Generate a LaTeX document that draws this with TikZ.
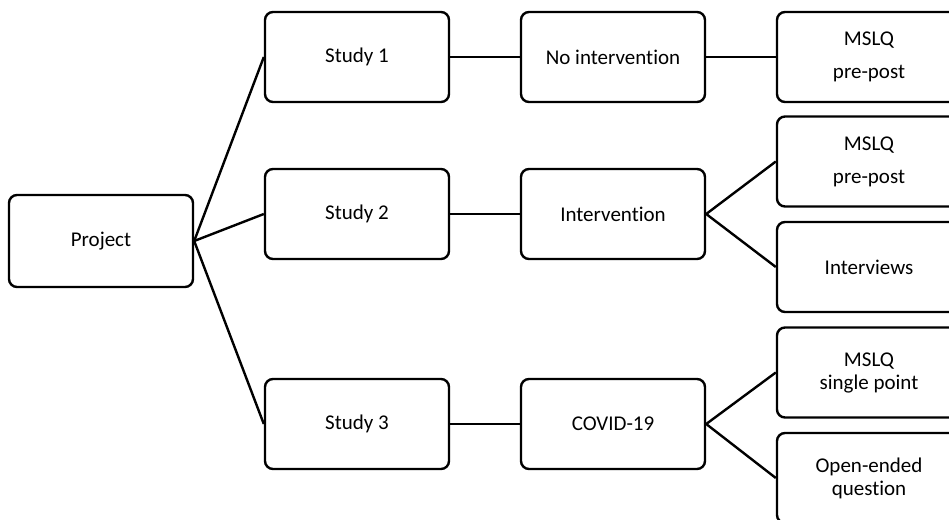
\documentclass[tikz,border=0pt]{standalone}
\usepackage{fontspec}
\setmainfont{Carlito}[Ligatures={NoCommon}]
\tikzset{
  box/.style={draw=black, line width=2.4pt, rounded corners=8pt, minimum width=184pt, minimum height=90pt, inner sep=0pt, align=center, font=\fontsize{21}{23}\selectfont, fill=white},
  link/.style={line width=2.4pt}
}
\begin{document}
\begin{tikzpicture}[x=1pt,y=-1pt]
\useasboundingbox (0,0) rectangle (949,519);
\clip (0,0) rectangle (949,519);
\fill[white] (0,0) rectangle (949,519);
\node[box, minimum height=92pt] (proj) at (101,241) {Project};
\node[box] (s1) at (357,57) {Study 1};
\node[box] (s2) at (357,214) {Study 2};
\node[box] (s3) at (357,424) {Study 3};
\node[box] (m1) at (613,57) {No intervention};
\node[box] (m2) at (613,214) {Intervention};
\node[box] (m3) at (613,424) {COVID-19};
\node[box] (r1) at (869,57) {MSLQ\\[10pt]pre-post};
\node[box] (r2) at (869,161.5) {MSLQ\\[10pt]pre-post};
\node[box] (r3) at (869,267) {Interviews};
\node[box] (r4) at (869,372.5) {MSLQ\\single point};
\node[box] (r5) at (869,478) {Open-ended\\question};
\draw[link] (proj.east) -- (s1.west);
\draw[link] (proj.east) -- (s2.west);
\draw[link] (proj.east) -- (s3.west);
\draw[link] (s1.east) -- (m1.west);
\draw[link] (s2.east) -- (m2.west);
\draw[link] (s3.east) -- (m3.west);
\draw[link] (m1.east) -- (r1.west);
\draw[link] (m2.east) -- (r2.west);
\draw[link] (m2.east) -- (r3.west);
\draw[link] (m3.east) -- (r4.west);
\draw[link] (m3.east) -- (r5.west);
\end{tikzpicture}
\end{document}
